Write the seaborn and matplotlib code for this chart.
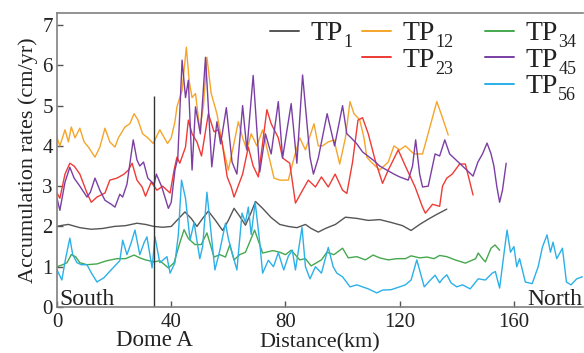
import numpy as np
import pandas as pd
import matplotlib
matplotlib.use("Agg")
import matplotlib.pyplot as plt
import matplotlib.transforms as mtransforms
from matplotlib.lines import Line2D
import seaborn as sns

sns.set_style("ticks")
plt.rcParams['font.family'] = ['Liberation Serif', 'DejaVu Serif']

# ---------------- data (km, accumulation rate cm/yr) ----------------
tp1_km = [0,2,4,8,12,16,20,24,28,31,34,37,40,42,44.8,47,49,51,53,55.5,58,60,62,64,66,68,69.5,72,75,78,
          81,84,87,89,91.5,94,97.5,101,105,109,113,117,121,124,127,130,133,136.5]
tp1_val = [2.0,2.03,2.05,1.97,1.93,1.95,2.0,2.02,2.08,2.05,2.0,1.98,2.0,2.15,2.36,2.2,2.0,2.2,2.38,2.15,
           1.9,2.15,2.45,2.25,2.03,2.35,2.62,2.45,2.22,2.05,2.0,1.97,2.05,1.95,1.86,1.95,2.05,2.23,2.2,2.15,
           2.17,2.1,2.02,1.9,2.05,2.18,2.3,2.43]

tp12_km = [0,1,2.8,4,5,6.3,8,9.5,11,13.3,15,16.8,18.5,20.3,21.5,23.8,25.5,27,28.3,30,
           31.8,33.7,36,38.7,40,41.3,42,43.8,45.3,46.3,47.3,48.5,50,51.3,52.5,54,56,58,60,61.5,
           63.5,65,66.5,68,70,72,74,76,78,81,83,85,87,90,91.5,93,95,97,99,101,
           102.6,104,106,107.5,108.5,110,113,116,118,120,122,125,128,130.6,133,135,137]
tp12_val = [4.2,4.0,4.4,4.1,4.47,4.2,4.44,4.1,3.97,3.72,3.97,4.44,4.1,3.97,4.2,4.47,4.55,4.8,4.65,4.3,
            4.2,4.06,4.4,4.06,4.2,4.6,4.97,5.38,6.45,5.6,5.2,5.3,4.4,5.0,6.2,5.3,4.8,4.0,3.4,3.9,
            4.6,4.2,3.9,4.3,4.0,4.4,3.8,3.2,3.15,3.15,3.7,4.2,3.9,4.55,4.0,4.0,4.1,4.15,3.55,4.2,
            5.1,4.8,4.65,4.2,3.72,3.6,3.4,3.6,4.0,3.9,4.0,3.8,3.8,4.47,5.1,4.7,4.27]

tp23_km = [0,1,2.8,4.5,6,8,10.5,12,14,16.8,18.5,21,23.5,25,26.3,28,29.8,31,33,35,
           37,39.6,41,42,43,45,46,47.3,49,50.6,53,55,56.5,57.8,59.6,61,62,65,67,68.7,
           70.5,73.5,75,77.5,79,81.5,83.5,86,88,90.5,92.6,95,97.4,100,101.5,103.5,105.4,107,109,111.4,
           114,116,119.5,122,125.4,128,129,131.5,134,135,136.5,138.4,141,143,145.7]
tp23_val = [2.83,2.7,3.3,3.57,3.5,3.3,2.83,2.6,2.73,2.83,3.15,3.2,3.3,3.4,3.57,3.15,2.98,2.75,3.1,2.9,
            3.0,2.83,3.4,3.72,3.57,3.97,4.64,4.3,4.1,3.75,4.8,4.35,4.4,4.1,3.23,2.98,2.73,3.3,3.97,3.5,
            3.23,4.9,4.55,4.2,3.7,3.57,2.58,2.9,3.15,2.98,3.23,2.98,3.3,2.9,2.82,3.6,4.64,4.7,4.3,3.65,
            3.07,3.4,3.9,3.5,2.98,2.48,2.33,2.55,2.5,3.0,3.2,3.3,3.55,3.55,2.78]

tp34_km = [0,2,3.5,5,6.5,8,10.5,14,17.5,21,24,27,29,31,34,36,39,41,43,44.5,
           46,48.3,50.5,52.5,55,57,59,60.5,62,64,66,69.2,72,75.6,78,80,82,85,87,89,
           92.6,94.5,97,100,102,105,108,110.7,113,116,119,122,124,127,129.6,132,134,136.5,139.4,143,
           145,146.6,147.5,149,150,152,153.4,155]
tp34_val = [1.0,1.05,1.1,1.3,1.25,1.1,1.05,1.07,1.15,1.2,1.2,1.29,1.22,1.17,1.12,1.15,0.97,1.1,1.59,1.92,
            1.7,1.55,1.55,1.84,1.24,1.3,1.24,1.54,1.17,1.3,1.36,1.91,1.34,1.4,1.36,1.3,1.41,1.17,1.2,1.02,
            1.17,1.36,1.3,1.46,1.22,1.25,1.17,1.29,1.22,1.17,1.2,1.2,1.27,1.22,1.24,1.2,1.28,1.25,1.17,1.09,
            1.15,1.2,1.34,1.2,1.12,1.46,1.54,1.41]

tp45_km = [0,1,2.8,4.5,6,8,10.5,11.7,13.3,15,16.8,19,20.3,22,23,24.5,26.7,28,29,30.3,
           31.8,34,34.8,36.7,39,40,41.3,42.3,43.8,45,46,47.3,48.5,50.2,52,54.2,56,57.3,59.3,61.3,
           63,65,66.5,68.7,71,73,75,77.5,79,82,84,86,88.6,89.8,91.5,94.6,97.2,100,101.5,103,
           105,107,110.7,113,115.5,118,120,123,124.5,125.6,127,128,130,132.4,134,135.8,137.5,139,142,145.7,
           147.4,149,150.6,152,153,154,155,156,157.3]
tp45_val = [2.7,2.4,3.1,3.47,3.2,3.0,2.73,2.85,3.2,2.9,2.65,2.55,2.48,2.8,2.73,3.05,4.15,3.65,3.5,3.6,
            3.2,3.05,3.3,2.98,2.45,2.6,3.4,3.7,6.13,5.2,5.63,3.4,4.97,4.3,6.2,3.48,4.6,4.05,4.95,3.6,
            3.3,5.0,3.9,5.75,3.35,4.3,3.8,5.1,3.7,5.05,3.57,5.76,3.72,3.3,3.7,4.8,4.0,5.0,4.3,4.2,
            4.05,3.85,3.65,3.5,3.4,3.3,3.23,3.15,3.5,4.15,3.3,2.98,3.0,3.8,3.75,4.15,3.8,3.7,3.5,3.25,
            3.6,3.8,4.07,3.8,3.5,3.0,2.6,2.9,3.57]

tp56_km = [0,1.7,3,4.5,5.5,7,8.5,10.5,12,14,16.5,18,20,22,23,24.5,26,27.3,29,30.5,
           31.5,33.3,34.3,36,38.5,39.6,41.3,42.5,43.6,45,46.6,48,50,51,52.5,54.3,55.3,57,59,60,
           61.5,63,64.8,66,67,68,69.4,71,72,74,75.8,77.5,79.4,81,82.4,83.5,85.8,87,88.6,90.5,
           92.6,95,96.7,98,100,102.6,105,107,109,112,114,117,120,122,124,126,128.6,130.5,132.4,134,
           135,136.5,138,140,142,144.7,147.5,150,152.4,153.5,155,156.3,157.6,158.8,160,161,162,164,166.4,168.5,
           170,171.6,172.8,173.7,175,177,178.4,180,182,184]
tp56_val = [0.92,0.67,1.2,1.71,1.3,1.1,1.05,1.05,0.85,0.62,0.73,0.85,1.0,1.15,1.66,1.3,1.6,1.91,1.3,1.6,
            1.74,0.97,1.74,1.1,1.25,0.84,1.1,1.8,3.15,2.7,1.66,2.1,1.2,1.5,2.85,1.6,0.92,1.4,2.08,1.7,
            1.3,0.92,2.33,2.1,2.48,1.8,2.6,1.6,0.84,1.16,1.0,1.35,0.92,1.26,1.41,0.92,1.98,1.0,0.7,1.0,
            0.84,1.48,1.0,0.84,0.75,0.5,0.55,0.5,0.45,0.35,0.42,0.43,0.5,0.55,0.67,1.17,0.5,0.65,0.79,0.6,
            0.7,0.8,0.6,0.5,0.55,0.45,0.7,0.67,0.84,0.88,0.47,1.2,1.91,1.36,1.5,1.0,1.2,0.62,0.58,1.0,
            1.49,1.79,1.36,1.61,1.2,1.46,0.62,0.55,0.7,0.75]

series_base = "TP"
series_subs = ["1", "12", "23", "34", "45", "56"]
series_colors = ["#555555", "#F5A52A", "#EE3B36", "#45A84E", "#7B3FA3", "#2BB0E8"]

dome_km = 34
dome_line_top = 5.25
x_ticks = [0, 40, 80, 120, 160]
y_ticks = [0, 1, 2, 3, 4, 5, 6, 7]

# ---------------- figure ----------------
W, H = 584, 353
fig = plt.figure(figsize=(W/100, H/100), dpi=100)
ax = fig.add_axes([57/W, 46/H, 526/W, 294/H])

all_series = [(tp1_km, tp1_val), (tp12_km, tp12_val), (tp23_km, tp23_val),
              (tp34_km, tp34_val), (tp45_km, tp45_val), (tp56_km, tp56_val)]
handles = []
for (km, val), col in zip(all_series, series_colors):
    df = pd.DataFrame({"km": km, "rate": val})
    sns.lineplot(data=df, x="km", y="rate", color=col, lw=1.0, sort=False,
                 estimator=None, ax=ax, legend=False)
    handles.append(Line2D([], [], color=col, lw=1.4, label=series_base))

ax.vlines(dome_km, 0, dome_line_top, color="#333333", lw=1.0)

ax.set_xlim(0, 184.2)
ax.set_ylim(0, 7.3)
ax.set_xticks(x_ticks)
ax.set_yticks(y_ticks)
ax.tick_params(direction='in', labelsize=15, length=4, width=1, color='#555555',
               labelcolor='#222222')
ax.tick_params(axis='x', pad=4)
ax.tick_params(axis='y', pad=3)
for s in ['top', 'left', 'bottom']:
    ax.spines[s].set_color('#808080')
    ax.spines[s].set_linewidth(1.2)
ax.spines['right'].set_visible(False)

ax.set_xlabel("Distance(km)", fontsize=16, color='#222222', labelpad=1)
ax.set_ylabel("Accumulation rates (cm/yr)", fontsize=16, color='#222222', labelpad=3)

ax.text(0.8, 0.06, "South", fontsize=17, color='#222222', ha='left', va='baseline')
ax.text(184, 0.06, "North", fontsize=17, color='#222222', ha='right', va='baseline')
trans = mtransforms.blended_transform_factory(ax.transData, ax.transAxes)
ax.text(dome_km, -0.078, "Dome A", fontsize=16.5, color='#222222', ha='center', va='top',
        transform=trans)

# legend in three columns (1, 2, 3 entries)
col_groups = [[0], [1, 2], [3, 4, 5]]
xs = [270/W, 362/W, 485/W]
legends = []
for idx, x0 in zip(col_groups, xs):
    lg = fig.legend(handles=[handles[i] for i in idx], loc='upper left',
                    bbox_to_anchor=(x0, 0.941), frameon=False, fontsize=20,
                    handlelength=1.05, handletextpad=0.4, labelspacing=0.04,
                    borderpad=0, borderaxespad=0)
    for t in lg.get_texts():
        t.set_color('#222222')
    legends.append((lg, idx))

# subscripts placed right after each "TP", below its baseline
fig.canvas.draw()
renderer = fig.canvas.get_renderer()
for lg, idx in legends:
    for t, i in zip(lg.get_texts(), idx):
        bb = t.get_window_extent(renderer)
        fig.text((bb.x1 + 0.5) / W, (bb.y0 - 1) / H, series_subs[i], fontsize=13,
                 color='#222222', ha='left', va='baseline')

fig.savefig("out.png", dpi=100)
